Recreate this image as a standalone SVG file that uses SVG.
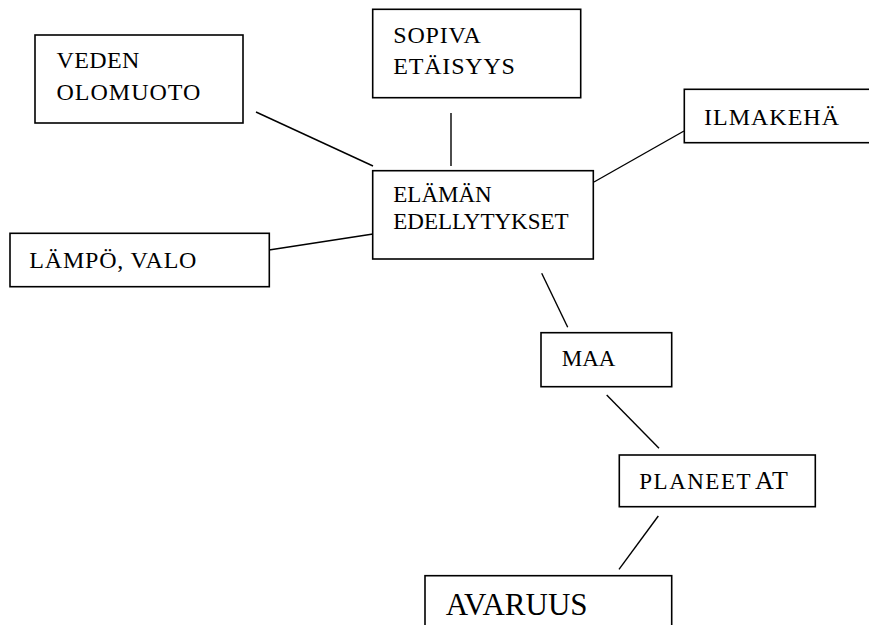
<svg xmlns="http://www.w3.org/2000/svg" width="869" height="625" viewBox="0 0 869 625">
<style>
.box{fill:#fff;stroke:#000;stroke-width:1.6}
.c line{stroke:#000;stroke-width:1.4}
text{font-family:"Liberation Serif",serif;fill:#000}
</style>
<rect width="869" height="625" fill="#fff"/>
<g class="c" id="connectors">
<line x1="256" y1="112" x2="373" y2="166"/>
<line x1="451" y1="113" x2="451" y2="166"/>
<line x1="594" y1="182" x2="684" y2="131"/>
<line x1="269" y1="250" x2="373" y2="234"/>
<line x1="541.7" y1="273.3" x2="567.7" y2="327.3"/>
<line x1="606.7" y1="395" x2="659" y2="448.3"/>
<line x1="658.3" y1="516" x2="619" y2="569.3"/>
</g>
<g id="veden">
<rect class="box" x="35" y="35" width="208" height="88"/>
<text font-size="24" x="56.5" y="68.3" letter-spacing="0.4">VEDEN</text>
<text font-size="24" x="56.5" y="100" letter-spacing="1">OLOMUOTO</text>
</g>
<g id="sopiva">
<rect class="box" x="372.7" y="9.3" width="208" height="88.4"/>
<text font-size="24" x="393.3" y="43.3" letter-spacing="0.8">SOPIVA</text>
<text font-size="24" x="393.3" y="74" letter-spacing="0.8">ETÄISYYS</text>
</g>
<g id="ilmakeha">
<rect class="box" x="684.3" y="89.3" width="200" height="53.4"/>
<text font-size="24" x="704" y="125" letter-spacing="1">ILMAKEHÄ</text>
</g>
<g id="elaman">
<rect class="box" x="372.7" y="170.7" width="220.6" height="88.3"/>
<text font-size="23" x="393.3" y="201.7">ELÄMÄN</text>
<text font-size="23" x="393.3" y="228.5">EDELLYTYKSET</text>
</g>
<g id="lampo">
<rect class="box" x="10" y="233.3" width="259.3" height="53.4"/>
<text font-size="24" x="29.3" y="268.3" letter-spacing="0.8">LÄMPÖ, VALO</text>
</g>
<g id="maa">
<rect class="box" x="541" y="332.7" width="130.7" height="54"/>
<text font-size="23" x="561.7" y="366">MAA</text>
</g>
<g id="planeetat">
<rect class="box" x="619.3" y="455" width="196" height="51.7"/>
<text font-size="23" x="639.3" y="489.3" letter-spacing="1.5">PLANEET</text>
<text font-size="26" x="755" y="489.3" letter-spacing="1">AT</text>
</g>
<g id="avaruus">
<rect class="box" x="425" y="575.7" width="246.7" height="70"/>
<text font-size="31" x="445.7" y="615">AVARUUS</text>
</g>
</svg>
